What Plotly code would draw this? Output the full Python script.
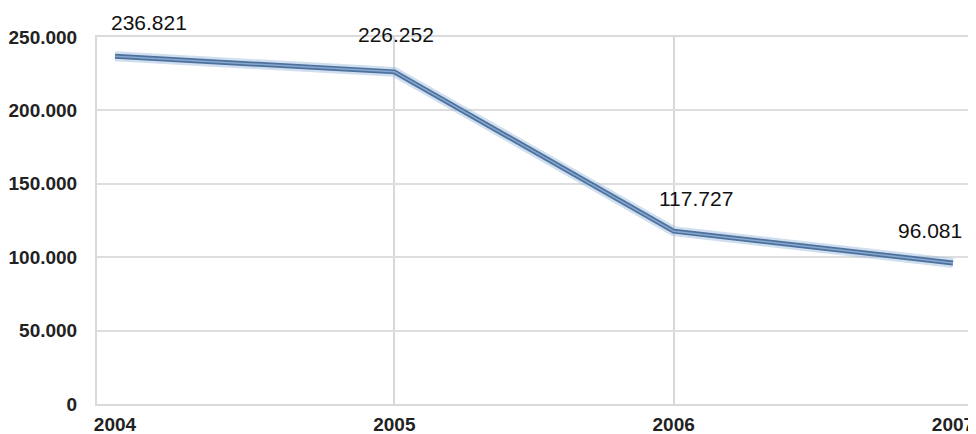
import plotly.graph_objects as go

years = [2004, 2005, 2006, 2007]
values = [236821, 226252, 117727, 96081]
y_ticks = [0, 50000, 100000, 150000, 200000, 250000]

# label offsets (pixels) relative to each point
label_dx = [34, 2, 22, -23]
label_dy = [34, 37, 33, 32]

fig = go.Figure()
# soft glow under the line
fig.add_trace(go.Scatter(x=years, y=values, mode="lines",
                         line=dict(color="rgba(150,185,220,0.45)", width=10),
                         hoverinfo="skip", showlegend=False))
fig.add_trace(go.Scatter(x=years, y=values, mode="lines",
                         line=dict(color="#4d719c", width=5),
                         showlegend=False))
fig.add_trace(go.Scatter(x=years, y=values, mode="lines",
                         line=dict(color="#86a8cf", width=1.5),
                         hoverinfo="skip", showlegend=False))

for x, y, dx, dy in zip(years, values, label_dx, label_dy):
    fig.add_annotation(x=x, y=y, text=f"{y:,}".replace(",", "."),
                       showarrow=False, xshift=dx, yshift=dy,
                       font=dict(family="Liberation Sans, Arial", size=21, color="#111"))

# page body has an 8px default margin, so the figure is sized to fit the window
fig.update_layout(
    width=968, height=426,
    margin=dict(l=89, r=6, t=29, b=30),
    paper_bgcolor="white", plot_bgcolor="white",
    separators=",.",
    font=dict(family="Liberation Sans, Arial", color="#222"),
    xaxis=dict(
        range=[2003.9356, 2007.0609],
        tickmode="array", tickvals=years, ticktext=[str(y) for y in years],
        showgrid=False,
        minor=dict(tickmode="array", tickvals=years[1:-1], showgrid=True,
                   gridcolor="#d8d8d8", gridwidth=2, ticks=""),
        showline=True, linecolor="#dadada", linewidth=2, mirror=True,
        zeroline=False, automargin=False,
        tickfont=dict(size=19, family="Liberation Sans, Arial", color="#222", weight="bold"),
        ticks="", ticklabelstandoff=2,
    ),
    yaxis=dict(
        range=[0, 250000],
        tickmode="array", tickvals=y_ticks,
        tickformat=",.0f",
        showgrid=True, gridcolor="#dedede", gridwidth=2,
        showline=True, linecolor="#dadada", linewidth=2, mirror=True,
        zeroline=False, automargin=False,
        tickfont=dict(size=19, family="Liberation Sans, Arial", color="#222", weight="bold"),
        ticks="", ticklabelstandoff=14,
    ),
)

fig.write_html("out.html")
